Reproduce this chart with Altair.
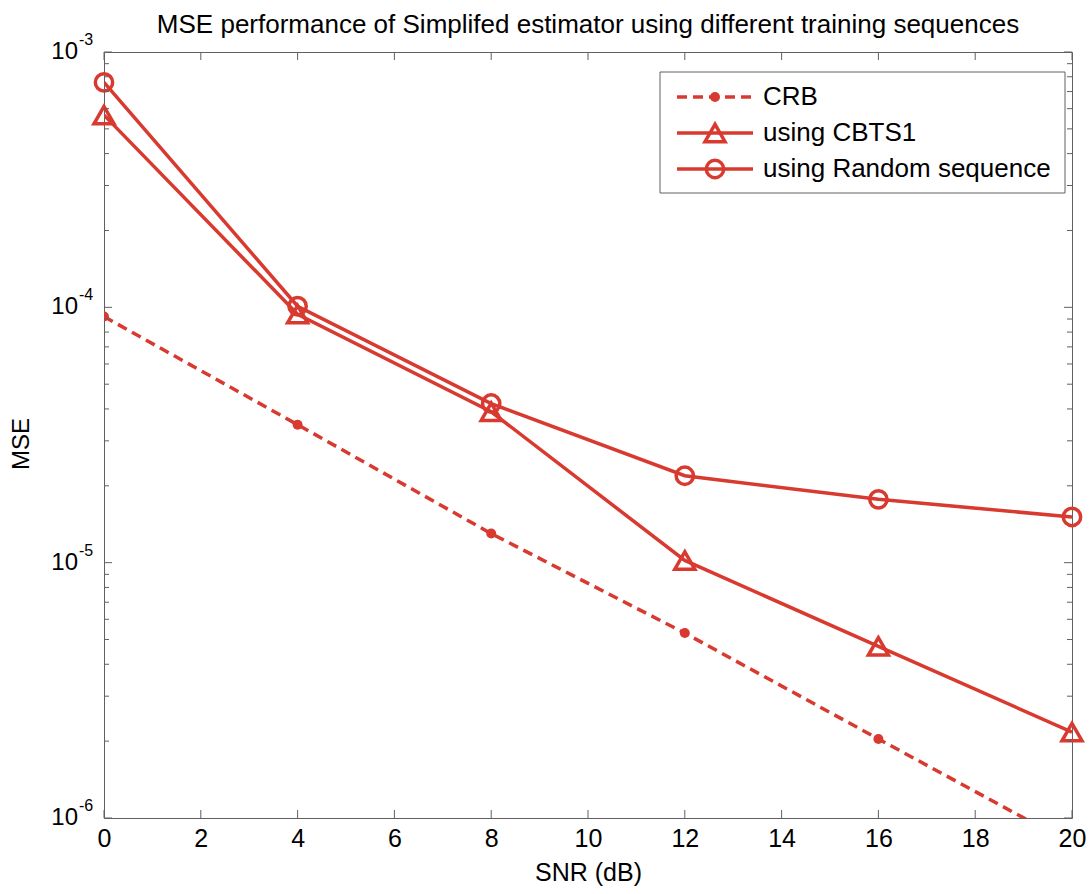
import altair as alt
import pandas as pd

# SNR grid (dB) and MSE curves
snr = [0, 4, 8, 12, 16, 20]
mse_crb = [9.2e-5, 3.47e-5, 1.3e-5, 5.3e-6, 2.04e-6, 7.9e-7]
mse_cbts1 = [5.66e-4, 9.4e-5, 3.9e-5, 1.02e-5, 4.7e-6, 2.17e-6]
mse_random = [7.6e-4, 1.01e-4, 4.2e-5, 2.19e-5, 1.77e-5, 1.51e-5]

series_names = ["CRB", "using CBTS1", "using Random sequence"]
x_ticks = list(range(0, 21, 2))
y_powers = [-6, -5, -4, -3]

title_text = "MSE performance of Simplifed estimator using different training sequences"
x_title = "SNR (dB)"
y_title = "MSE"

RED = "#d83a30"
AXIS_GRAY = "#606060"
FONT = "Liberation Sans"
W, H = 968, 766
LW = 3.5

x_scale = alt.Scale(domain=[0, 20], nice=False, zero=False)
y_scale = alt.Scale(type="log", domain=[1e-6, 1e-3], nice=False)

df = pd.DataFrame({
    "snr": snr * 3,
    "mse": mse_crb + mse_cbts1 + mse_random,
    "series": [series_names[0]] * 6 + [series_names[1]] * 6 + [series_names[2]] * 6,
})

x_enc = alt.X("snr:Q", scale=x_scale,
              axis=alt.Axis(values=x_ticks, ticks=False, domain=False, grid=False,
                            labelFontSize=25, labelFont=FONT, labelColor="black",
                            labelPadding=8, labelFlush=False,
                            title=x_title, titleFont=FONT, titleFontSize=25,
                            titleFontWeight="normal", titleColor="black", titlePadding=9))
y_enc = alt.Y("mse:Q", scale=y_scale, axis=None)

base = alt.Chart(df)

crb_line = base.transform_filter(alt.datum.series == series_names[0]).mark_line(
    color=RED, strokeWidth=LW, strokeDash=[10, 6], clip=True
).encode(x=x_enc, y=y_enc)
crb_dots = base.transform_filter(alt.datum.series == series_names[0]).mark_circle(
    color=RED, size=100, opacity=1, clip=True
).encode(x=x_enc, y=y_enc)

cbts_line = base.transform_filter(alt.datum.series == series_names[1]).mark_line(
    color=RED, strokeWidth=LW, clip=True
).encode(x=x_enc, y=y_enc)
cbts_pts = base.transform_filter(alt.datum.series == series_names[1]).mark_point(
    shape="triangle-up", color=RED, filled=False, strokeWidth=LW, size=400, opacity=1
).encode(x=x_enc, y=y_enc)

rand_line = base.transform_filter(alt.datum.series == series_names[2]).mark_line(
    color=RED, strokeWidth=LW, clip=True
).encode(x=x_enc, y=y_enc)
rand_pts = base.transform_filter(alt.datum.series == series_names[2]).mark_point(
    shape="circle", color=RED, filled=False, strokeWidth=LW, size=300, opacity=1
).encode(x=x_enc, y=y_enc)

# Inward-pointing box ticks
xt = pd.DataFrame({"snr": x_ticks})
x_tick_bottom = alt.Chart(xt).mark_rule(color=AXIS_GRAY, strokeWidth=1).encode(
    x=alt.X("snr:Q", scale=x_scale), y=alt.value(H), y2=alt.value(H - 8))
x_tick_top = alt.Chart(xt).mark_rule(color=AXIS_GRAY, strokeWidth=1).encode(
    x=alt.X("snr:Q", scale=x_scale), y=alt.value(0), y2=alt.value(8))

major_vals = [10.0 ** p for p in y_powers]
minor_vals = [m * 10.0 ** p for p in y_powers[:-1] for m in range(2, 10)]
ymaj = pd.DataFrame({"mse": major_vals})
ymin = pd.DataFrame({"mse": minor_vals})


def y_ticks(frame, length):
    left = alt.Chart(frame).mark_rule(color=AXIS_GRAY, strokeWidth=1).encode(
        y=alt.Y("mse:Q", scale=y_scale), x=alt.value(0), x2=alt.value(length))
    right = alt.Chart(frame).mark_rule(color=AXIS_GRAY, strokeWidth=1).encode(
        y=alt.Y("mse:Q", scale=y_scale), x=alt.value(W), x2=alt.value(W - length))
    return left + right


# Log-axis labels written as 10 with a raised exponent
ylab = pd.DataFrame({"mse": major_vals, "exp": [str(p) for p in y_powers], "base": ["10"] * 4})
y_base_txt = alt.Chart(ylab).mark_text(
    font=FONT, fontSize=24, align="right", baseline="middle", color="black"
).encode(y=alt.Y("mse:Q", scale=y_scale), x=alt.value(-26), text="base:N")
y_exp_txt = alt.Chart(ylab).mark_text(
    font=FONT, fontSize=16, align="left", baseline="middle", dy=-12, color="black"
).encode(y=alt.Y("mse:Q", scale=y_scale), x=alt.value(-25), text="exp:N")

one = pd.DataFrame({"t": [title_text]})
title_mark = alt.Chart(one).mark_text(
    font=FONT, fontSize=26, align="center", baseline="alphabetic", color="black"
).encode(x=alt.value(W / 2), y=alt.value(-19), text="t:N")

ylab_title = alt.Chart(pd.DataFrame({"t": [y_title]})).mark_text(
    font=FONT, fontSize=24, align="center", baseline="middle", angle=270, color="black"
).encode(x=alt.value(-82), y=alt.value(392), text="t:N")

# Legend box
LX0, LX1, LY0, LY1 = 556, 961, 20, 141
legend_box = alt.Chart(pd.DataFrame({"k": [0]})).mark_rect(
    fill="white", stroke=AXIS_GRAY, strokeWidth=1
).encode(x=alt.value(LX0), x2=alt.value(LX1), y=alt.value(LY0), y2=alt.value(LY1))

legend_layers = []
row_y = [45, 81, 117]
for i, name in enumerate(series_names):
    ld = pd.DataFrame({"label": [name]})
    ry = row_y[i]
    rule_kw = dict(color=RED, strokeWidth=LW)
    if i == 0:
        rule_kw["strokeDash"] = [10, 6]
    legend_layers.append(alt.Chart(ld).mark_rule(**rule_kw).encode(
        x=alt.value(573), x2=alt.value(649), y=alt.value(ry)))
    if i == 0:
        sym = alt.Chart(ld).mark_circle(color=RED, size=100, opacity=1)
    elif i == 1:
        sym = alt.Chart(ld).mark_point(shape="triangle-up", color=RED, filled=False,
                                       strokeWidth=LW, size=400, opacity=1)
    else:
        sym = alt.Chart(ld).mark_point(shape="circle", color=RED, filled=False,
                                       strokeWidth=LW, size=300, opacity=1)
    legend_layers.append(sym.encode(x=alt.value(611), y=alt.value(ry)))
    legend_layers.append(alt.Chart(ld).mark_text(
        font=FONT, fontSize=26, align="left", baseline="middle", color="black"
    ).encode(x=alt.value(659), y=alt.value(ry), text="label:N"))

chart = alt.layer(
    crb_line, crb_dots, cbts_line, rand_line, cbts_pts, rand_pts,
    x_tick_bottom, x_tick_top, y_ticks(ymaj, 8), y_ticks(ymin, 5),
    y_base_txt, y_exp_txt, title_mark, ylab_title,
    legend_box, *legend_layers,
).properties(
    width=W, height=H,
    autosize=alt.AutoSizeParams(type="none"),
    padding={"left": 104, "top": 52, "right": 18, "bottom": 76},
    background="white",
).configure_view(stroke=AXIS_GRAY, strokeWidth=1)

chart.save("out.html", embed_options={"renderer": "svg", "actions": False})
